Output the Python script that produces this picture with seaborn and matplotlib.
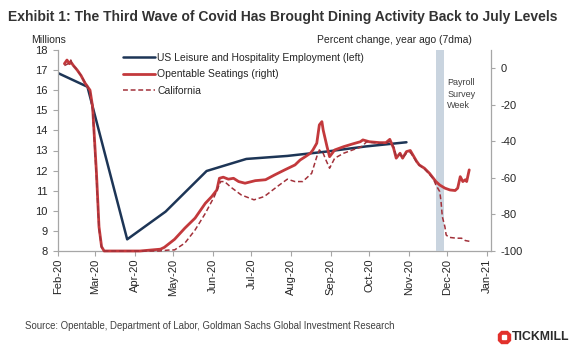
import matplotlib
matplotlib.use("Agg")
import matplotlib.pyplot as plt
from matplotlib.lines import Line2D
import numpy as np
import pandas as pd
import seaborn as sns

# ---------------- data ----------------
emp_dates = ["2020-01-27", "2020-02-24", "2020-03-26", "2020-04-25", "2020-05-27",
             "2020-06-27", "2020-07-29", "2020-08-29", "2020-09-28", "2020-10-30"]
emp_values = [17.0, 16.17, 8.58, 9.96, 11.98, 12.58, 12.73, 12.95, 13.2, 13.41]

ot_dates = ["2020-02-06", "2020-02-08", "2020-02-10", "2020-02-11", "2020-02-13", "2020-02-16",
            "2020-02-19", "2020-02-22", "2020-02-24", "2020-02-26", "2020-02-28", "2020-03-02",
            "2020-03-04", "2020-03-06", "2020-03-08", "2020-04-05", "2020-04-13", "2020-04-21",
            "2020-04-24", "2020-05-02", "2020-05-10", "2020-05-18", "2020-05-26", "2020-05-31",
            "2020-06-04", "2020-06-06", "2020-06-09", "2020-06-13", "2020-06-17", "2020-06-21",
            "2020-06-26", "2020-07-04", "2020-07-12", "2020-07-19", "2020-07-27", "2020-08-04",
            "2020-08-08", "2020-08-12", "2020-08-16", "2020-08-18", "2020-08-21", "2020-08-23",
            "2020-08-25", "2020-08-26", "2020-08-29", "2020-08-31", "2020-09-04", "2020-09-11",
            "2020-09-18", "2020-09-24", "2020-09-26", "2020-10-01", "2020-10-09", "2020-10-14",
            "2020-10-17", "2020-10-20", "2020-10-22", "2020-10-25", "2020-10-27", "2020-10-30",
            "2020-11-02", "2020-11-04", "2020-11-07", "2020-11-09", "2020-11-13", "2020-11-17",
            "2020-11-20", "2020-11-22", "2020-11-25", "2020-11-29", "2020-12-03", "2020-12-07",
            "2020-12-09", "2020-12-11", "2020-12-13", "2020-12-15", "2020-12-16", "2020-12-18"]
ot_values = [2.5, 4.5, 2.5, 3.5, 1.5, -1, -4, -8, -10, -12, -21, -57,
             -86.7, -97.6, -100, -100, -99.5, -99, -98, -93.6, -87.5, -82, -73.9, -70.2,
             -66.6, -60.2, -59.6, -60.7, -60.2, -62, -62.9, -61.5, -61, -58.4, -55.6, -52.9,
             -50.2, -48.4, -46.5, -44.7, -41, -31, -29.2, -33.8, -42.9, -48.4, -44.7, -42.9,
             -41.4, -40.2, -39.2, -40.2, -40.7, -40.7, -38.9, -43.8, -49.2, -46.5, -49.2, -45.6,
             -45, -47.4, -51, -52.9, -54.7, -57.5, -60.2, -62, -63.9, -65.6, -66.6, -66.9,
             -65.6, -59.3, -62, -61, -62, -55.6]

ca_dates = ["2020-02-06", "2020-02-09", "2020-02-11", "2020-02-12", "2020-02-15", "2020-02-19",
            "2020-02-24", "2020-02-26", "2020-02-28", "2020-03-02", "2020-03-04", "2020-03-06",
            "2020-03-08", "2020-04-20", "2020-04-27", "2020-05-02", "2020-05-10", "2020-05-18",
            "2020-05-26", "2020-06-02", "2020-06-07", "2020-06-10", "2020-06-15", "2020-06-23",
            "2020-07-03", "2020-07-11", "2020-07-21", "2020-07-29", "2020-08-04", "2020-08-10",
            "2020-08-17", "2020-08-21", "2020-08-23", "2020-08-26", "2020-08-28", "2020-08-31",
            "2020-09-04", "2020-09-11", "2020-09-18", "2020-09-25", "2020-09-29", "2020-10-01",
            "2020-10-09", "2020-10-14", "2020-10-17", "2020-10-20", "2020-10-22", "2020-10-25",
            "2020-10-27", "2020-10-30", "2020-11-02", "2020-11-04", "2020-11-07", "2020-11-09",
            "2020-11-13", "2020-11-17", "2020-11-20", "2020-11-22", "2020-11-25", "2020-11-26",
            "2020-11-27", "2020-11-29", "2020-11-30", "2020-12-02", "2020-12-08", "2020-12-12",
            "2020-12-15", "2020-12-19", "2020-12-20"]
ca_values = [1.5, 2.5, 4.5, 2, 0, -4, -10, -13, -23, -60, -88, -98,
             -100, -100, -99.5, -99.4, -95.7, -88.5, -79.4, -70.2, -62, -62, -65.1, -69.3,
             -72, -70.2, -64.8, -60.7, -62, -62, -57.5, -48.4, -44.7, -46.5, -50, -54.7,
             -49.2, -46.5, -44.7, -42.9, -40.2, -40.5, -41, -41, -40, -43, -48, -47,
             -49, -46.5, -46, -48, -51.5, -53, -55, -58, -60.5, -63.9, -67.5, -73,
             -81.2, -86.7, -91.2, -92.5, -93, -93, -94.3, -94.8, -94.3]

survey_week = ["2020-11-22", "2020-11-28"]
month_ticks = pd.date_range("2020-02-01", "2021-01-01", freq="MS")
tick_labels = [d.strftime("%b-%y") for d in month_ticks]
left_ticks = list(range(8, 19))
right_ticks = [0, -20, -40, -60, -80, -100]

emp = pd.DataFrame({"date": pd.to_datetime(emp_dates), "value": emp_values})
ot = pd.DataFrame({"date": pd.to_datetime(ot_dates), "value": ot_values})
ca = pd.DataFrame({"date": pd.to_datetime(ca_dates), "value": ca_values})

# ---------------- style ----------------
sns.set_theme(style="white")
plt.rcParams["font.family"] = ["Liberation Sans", "DejaVu Sans"]

NAVY = "#1d3556"
RED = "#c3393c"
CA_RED = "#a2313a"
SPINE = "#a6a6a6"
TXT = "#262626"

fig = plt.figure(figsize=(5.77, 3.48), dpi=100)
ax = fig.add_axes([58 / 577, 1 - 251 / 348, (491 - 58) / 577, (251 - 50) / 348])
ax2 = ax.twinx()

sns.lineplot(data=emp, x="date", y="value", ax=ax, color=NAVY, lw=1.8,
             label="US Leisure and Hospitality Employment (left)", legend=False)
ax2.axvspan(pd.Timestamp(survey_week[0]), pd.Timestamp(survey_week[1]),
            color="#c9d4df", lw=0, zorder=0)
sns.lineplot(data=ot, x="date", y="value", ax=ax2, color=RED, lw=2.0,
             label="Opentable Seatings (right)", legend=False)
sns.lineplot(data=ca, x="date", y="value", ax=ax2, color=CA_RED, lw=1.1,
             linestyle=(0, (3.2, 1.8)), label="California", legend=False)
for ln in ax2.get_lines():
    ln.set_clip_on(False)

xmin, xmax = pd.Timestamp("2020-02-01"), pd.Timestamp("2021-01-04")
ax.set_xlim(xmin, xmax)
ax.set_ylim(8, 18)
ax2.set_ylim(-100, 10)

ax.set_xticks(month_ticks)
ax.set_xticklabels(tick_labels, rotation=90, fontsize=8, color=TXT)
ax.set_yticks(left_ticks)
ax.set_yticklabels([str(v) for v in left_ticks], fontsize=8, color=TXT)
ax2.set_yticks(right_ticks)
ax2.set_yticklabels([str(v) for v in right_ticks], fontsize=8, color=TXT)
ax.set_xlabel("")
ax.set_ylabel("")
ax2.set_ylabel("")

for a in (ax, ax2):
    a.grid(False)
    a.spines["top"].set_visible(False)
    for s in ("left", "right", "bottom"):
        a.spines[s].set_color(SPINE)
        a.spines[s].set_linewidth(0.9)
ax.spines["right"].set_visible(False)
ax2.spines["left"].set_visible(False)
ax2.spines["bottom"].set_visible(False)
ax.tick_params(axis="y", direction="out", length=3.5, width=0.8, color=SPINE, pad=4, left=True)
ax.tick_params(axis="x", direction="out", length=3.5, width=0.8, color=SPINE, pad=2, bottom=True)
ax2.tick_params(axis="y", direction="out", length=3.0, width=0.8, color=SPINE, pad=4,
                right=True)

# legend
handles = ax.get_lines()[:1] + ax2.get_lines()[:2]
leg = ax2.legend(handles=handles, labels=[h.get_label() for h in handles],
                 loc="upper left", bbox_to_anchor=(0.15, 0.985), frameon=False,
                 fontsize=7.5, handlelength=3.1, handletextpad=0.2, labelspacing=0.6,
                 borderpad=0, borderaxespad=0)
for t in leg.get_texts():
    t.set_color(TXT)

ax2.text(pd.Timestamp("2020-12-01"), -5.5, "Payroll\nSurvey\nWeek", fontsize=6.5,
         color="#404040", va="top", ha="left", linespacing=1.35)

# texts
fig.text(8 / 577, 1 - 17 / 348,
         "Exhibit 1: The Third Wave of Covid Has Brought Dining Activity Back to July Levels",
         fontweight="bold", fontsize=10, color="#333333", va="center", ha="left")
fig.text(49 / 577, 1 - 40 / 348, "Millions", fontsize=7.5, color=TXT, ha="center", va="center")
fig.text(472 / 577, 1 - 40 / 348, "Percent change, year ago (7dma)", fontsize=7.5,
         color=TXT, ha="right", va="center")
fig.text(25 / 577, 1 - 326 / 348,
         "Source: Opentable, Department of Labor, Goldman Sachs Global Investment Research",
         fontsize=6.9, color="#404040", ha="left", va="center")
fig.add_artist(Line2D([504 / 577], [1 - 337 / 348], marker="8", markersize=9.5,
                      color="#e2312c", transform=fig.transFigure))
fig.add_artist(Line2D([504 / 577], [1 - 337 / 348], marker="s", markersize=2.5,
                      color="white", transform=fig.transFigure))
fig.text(512 / 577, 1 - 337 / 348, "TICKMILL", fontsize=8.8, fontweight="bold",
         color="#2b2b2b", ha="left", va="center")

fig.savefig("out.png", dpi=100)
